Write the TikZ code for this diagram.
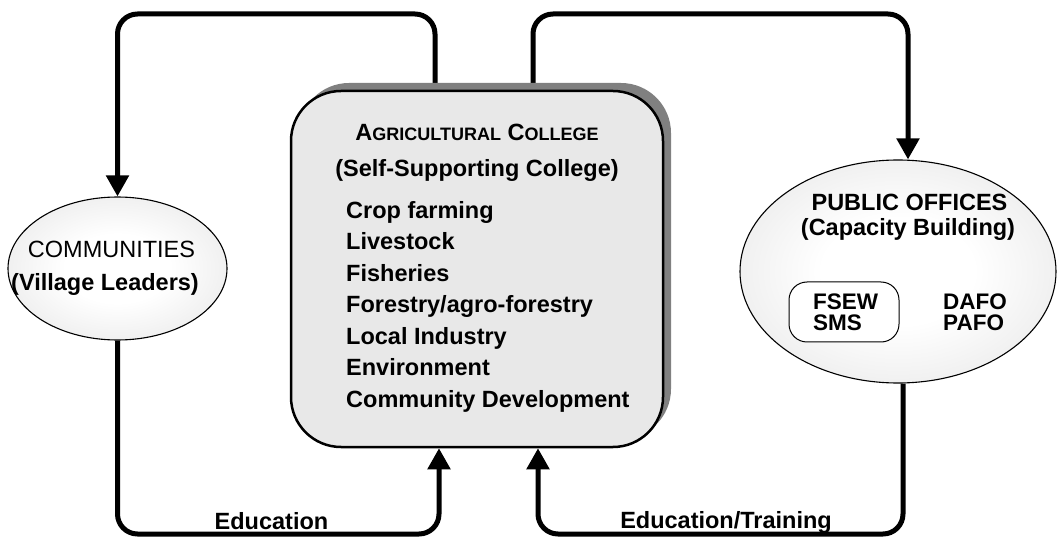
\documentclass[tikz,border=0pt]{standalone}
\usepackage{fontspec}
\setmainfont{Liberation Sans}
\usetikzlibrary{arrows.meta,shapes.geometric,shadows,backgrounds}

\definecolor{boxfill}{RGB}{232,232,232}
\definecolor{shadowgray}{RGB}{128,128,128}
\definecolor{ellgray}{RGB}{212,212,212}
\pgfdeclareradialshading{ellshade}{\pgfpoint{0bp}{0bp}}{color(0bp)=(white); color(12bp)=(white); color(50bp)=(ellgray); color(60bp)=(ellgray)}

% small letters of the caps-and-small-caps title
\newcommand\capsmall[1]{{\fontsize{18}{18}\selectfont #1}}

\tikzset{
  loopline/.style={line width=5pt, rounded corners=20pt},
  bigtip/.style={-{Triangle[width=22pt,length=21pt]}},
  bubble/.style={ellipse, draw, line width=1.1pt, shading=ellshade, inner sep=0pt},
  txt/.style={inner sep=0pt, font=\bfseries\fontsize{23.5}{28}\selectfont},
  plaintxt/.style={inner sep=0pt, font=\fontsize{23.5}{28}\selectfont},
  smalltxt/.style={inner sep=0pt, anchor=base west, font=\bfseries\fontsize{22.5}{24}\selectfont},
}

\begin{document}
\begin{tikzpicture}[x=1pt,y=-1pt]
\useasboundingbox (0,0) rectangle (1058,537);

% central college box with its offset shadow
\node[draw, line width=2.5pt, rounded corners=50pt, fill=boxfill,
      minimum width=372pt, minimum height=356pt,
      general shadow={fill=shadowgray, shadow xshift=8pt, shadow yshift=8pt}]
      (college) at (477,269) {};

% the two partner bubbles
\node[bubble, minimum width=219pt, minimum height=143pt] (comm) at (117.5,268.5) {};
\node[bubble, minimum width=316pt, minimum height=223pt] (pub) at (898,271.5) {};
\node[draw, line width=1pt, fill=white, rounded corners=18pt,
      minimum width=110pt, minimum height=60pt] (fsewbox) at (844,312) {};

% college texts
\node[txt, anchor=base] (collegetitle) at (477,141)
  {A\capsmall{GRICULTURAL} C\capsmall{OLLEGE}};
\node[txt, anchor=base] (collegesub) at (477,176.5) {(Self-Supporting College)};
\foreach \t [count=\i] in {Crop farming, Livestock, Fisheries,
    Forestry/agro-forestry, Local Industry, Environment, Community Development}
  \node[txt, anchor=base west] (item\i) at (346,{218.3+31.5*(\i-1)}) {\t};

% communities texts
\node[plaintxt, anchor=base] (commtitle) at (111.5,258) {COMMUNITIES};
\node[txt, anchor=base] (commsub) at (105,291) {(Village Leaders)};

% public offices texts
\node[txt, anchor=base] (pubtitle) at (909.5,211) {PUBLIC OFFICES};
\node[txt, anchor=base] (pubsub) at (908,236) {(Capacity Building)};
\node[smalltxt] (fsew) at (813,309.3) {FSEW};
\node[smalltxt] (sms) at (813,330.5) {SMS};
\node[smalltxt] (dafo) at (943,309.3) {DAFO};
\node[smalltxt] (pafo) at (943,330.5) {PAFO};

% loop labels
\node[txt, anchor=base] (edu) at (271.5,529) {Education};
\node[txt, anchor=base] (edutrain) at (726,528) {Education/Training};

% corner points of the loops
\coordinate (topL) at (435,14);
\coordinate (topR1) at (533,14);
\coordinate (topR2) at (908,14);
\coordinate (botline) at (0,534);
\coordinate (botL) at (439,534);
\coordinate (botR1) at (903,534);
\coordinate (botR2) at (538,534);

\begin{scope}[on background layer]
  \draw[loopline, bigtip] (college.north -| topL) -- (topL)
       -- (comm.north |- topL) -- (comm.north);
  \draw[loopline, bigtip] (comm.south) -- (comm.south |- botline)
       -- (botL) -- (college.south -| botL);
  \draw[loopline, bigtip] (college.north -| topR1) -- (topR1)
       -- (topR2) -- (pub.north -| topR2);
  \draw[loopline, bigtip] (pub.south -| botR1) -- (botR1)
       -- (botR2) -- (college.south -| botR2);
\end{scope}
\end{tikzpicture}
\end{document}
